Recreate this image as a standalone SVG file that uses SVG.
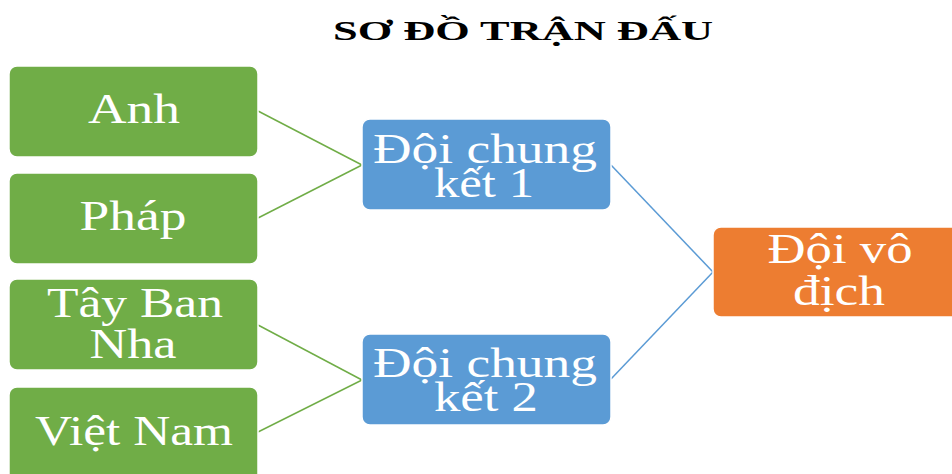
<svg xmlns="http://www.w3.org/2000/svg" width="952" height="474" viewBox="0 0 952 474">
<style>
.box{stroke:#ffffff;stroke-width:1.5}
.g{fill:#70AD47}
.b{fill:#5B9BD5}
.o{fill:#ED7D31}
.t{font-family:"Liberation Serif","Times New Roman",serif;font-size:42px;fill:#ffffff;text-anchor:middle}
.title{font-family:"Liberation Serif","Times New Roman",serif;font-size:28px;font-weight:bold;fill:#000000;text-anchor:middle}
.cg{stroke:#70AD47;stroke-width:1.5;fill:none}
.cb{stroke:#5B9BD5;stroke-width:1.5;fill:none}
</style>
<rect width="952" height="474" fill="#ffffff"/>
<text class="title" x="523" y="40" textLength="380" lengthAdjust="spacingAndGlyphs">SƠ ĐỒ TRẬN ĐẤU</text>
<g id="connectors">
<line class="cg" x1="258" y1="111" x2="362" y2="165"/>
<line class="cg" x1="258" y1="218" x2="362" y2="165"/>
<line class="cg" x1="258" y1="325" x2="362" y2="380"/>
<line class="cg" x1="258" y1="432" x2="362" y2="380"/>
<line class="cb" x1="611" y1="165" x2="713" y2="272"/>
<line class="cb" x1="611" y1="379" x2="713" y2="272"/>
</g>
<g id="anh"><rect class="box g" x="9" y="66" width="249" height="91" rx="8"/><text class="t" x="134" y="123" textLength="92" lengthAdjust="spacingAndGlyphs">Anh</text></g>
<g id="phap"><rect class="box g" x="9" y="173" width="249" height="91" rx="8"/><text class="t" x="133" y="230" textLength="107" lengthAdjust="spacingAndGlyphs">Pháp</text></g>
<g id="taybannha"><rect class="box g" x="9" y="279" width="249" height="91" rx="8"/><text class="t" x="135" y="317" textLength="176" lengthAdjust="spacingAndGlyphs">Tây Ban</text><text class="t" x="133" y="358" textLength="87" lengthAdjust="spacingAndGlyphs">Nha</text></g>
<g id="vietnam"><rect class="box g" x="9" y="387" width="249" height="100" rx="8"/><text class="t" x="134" y="445" textLength="198" lengthAdjust="spacingAndGlyphs">Việt Nam</text></g>
<g id="ck1"><rect class="box b" x="362" y="119" width="249" height="91" rx="8"/><text class="t" x="485" y="163" textLength="224" lengthAdjust="spacingAndGlyphs">Đội chung</text><text class="t" x="484" y="197" textLength="100" lengthAdjust="spacingAndGlyphs">kết 1</text></g>
<g id="ck2"><rect class="box b" x="362" y="334" width="249" height="91" rx="8"/><text class="t" x="485" y="377" textLength="224" lengthAdjust="spacingAndGlyphs">Đội chung</text><text class="t" x="486" y="411" textLength="104" lengthAdjust="spacingAndGlyphs">kết 2</text></g>
<g id="vodich"><rect class="box o" x="713" y="227" width="252" height="90" rx="8"/><text class="t" x="840" y="263" textLength="145" lengthAdjust="spacingAndGlyphs">Đội vô</text><text class="t" x="839" y="305" textLength="92" lengthAdjust="spacingAndGlyphs">địch</text></g>
</svg>
